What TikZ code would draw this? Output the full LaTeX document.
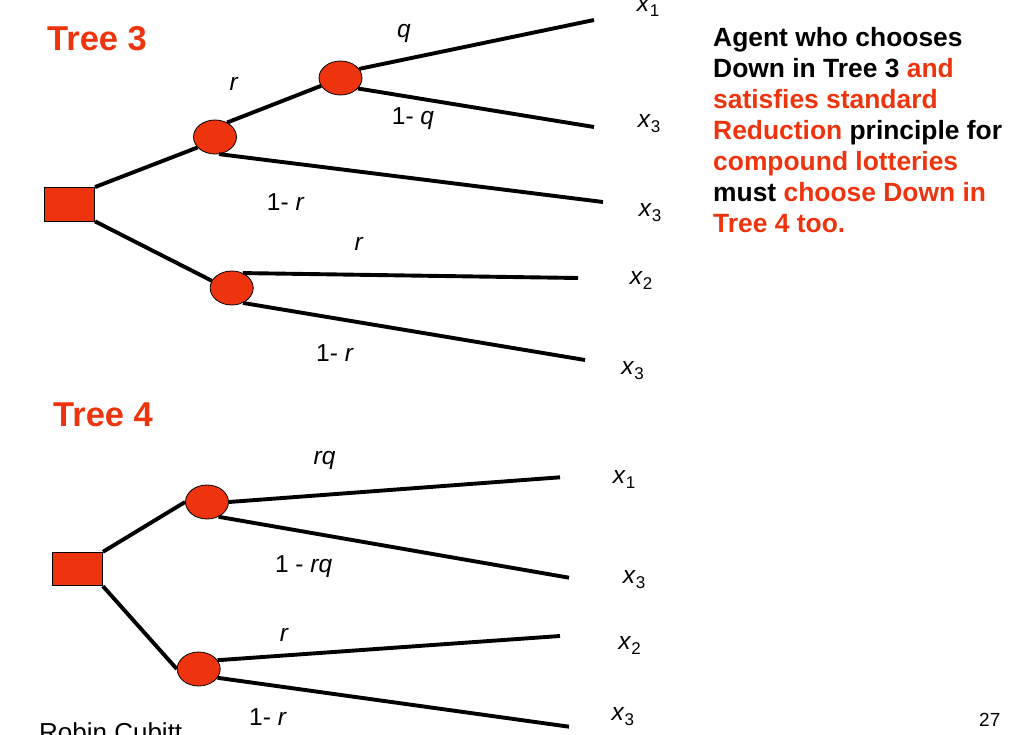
\documentclass[tikz,border=0pt]{standalone}
\usepackage{fontspec}
\setmainfont{Liberation Sans}
\usetikzlibrary{shapes.geometric}
\definecolor{myred}{RGB}{238,52,14}
\newcommand{\xsub}[2]{\textit{#1}\raisebox{-5pt}{\fontsize{17}{17}\selectfont #2}}
\tikzset{
  edge/.style={line width=3.9pt, black},
  chance/.style={ellipse, draw=black, line width=0.8pt, fill=myred, minimum width=43pt, minimum height=34pt, inner sep=0pt},
  decision/.style={rectangle, draw=black, line width=0.8pt, fill=myred, minimum width=50pt, minimum height=33.5pt, inner sep=0pt},
  lab/.style={font=\fontsize{24.5}{28}\selectfont, inner sep=0pt},
  outc/.style={font=\fontsize{24.5}{28}\selectfont, inner sep=0pt},
  ttl/.style={font=\bfseries\fontsize{34.5}{40}\selectfont, text=myred, anchor=base west, inner sep=0pt},
  para/.style={font=\bfseries\fontsize{26.4}{31}\selectfont, anchor=base west, inner sep=0pt},
  foot/.style={anchor=base west, inner sep=0pt}
}
\begin{document}
\begin{tikzpicture}[x=1pt,y=-1pt]
\useasboundingbox (0,0) rectangle (1017,735);
% titles
\node[ttl] (t3) at (47,51) {Tree 3};
\node[ttl] (t4) at (53,426) {Tree 4};
% Tree 3 nodes
\node[decision] (S3) at (69.6,204.2) {};
\node[chance] (A) at (215,137) {};
\node[chance] (B) at (340.5,78) {};
\node[chance] (C) at (231.7,288) {};
\coordinate (e1) at (594,20);
\coordinate (e2) at (594,127);
\coordinate (e3) at (603,202);
\coordinate (e4) at (578,278);
\coordinate (e5) at (585,360);
\draw[edge] (S3.north east) -- (A.211);
\draw[edge] (A.50) -- (B.202);
\draw[edge] (B.26) -- (e1);
\draw[edge] (B.-31) -- (e2);
\draw[edge] (A.-77) -- (e3);
\draw[edge] (S3.south east) -- (C.160);
\draw[edge] (C.53) -- (e4);
\draw[edge] (C.-53) -- (e5);
% Tree 3 labels
\node[lab] (lq) at (404,33.6) {\textit{q}};
\node[lab] (lr) at (234,84) {\textit{r}};
\node[lab] (l1q) at (413,119) {1- \textit{q}};
\node[lab] (l1r) at (285.7,201.7) {1- \textit{r}};
\node[lab] (lr2) at (359,244) {\textit{r}};
\node[lab] (l1r2) at (335,353) {1- \textit{r}};
\node[outc] (o1) at (648,8) {\xsub{x}{1}};
\node[outc] (o2) at (649,124) {\xsub{x}{3}};
\node[outc] (o3) at (650,213) {\xsub{x}{3}};
\node[outc] (o4) at (641,281) {\xsub{x}{2}};
\node[outc] (o5) at (632.7,370.7) {\xsub{x}{3}};
% Tree 4 nodes
\node[decision] (S4) at (77.5,569) {};
\node[chance] (D) at (207,502) {};
\node[chance] (E) at (198.7,669) {};
\coordinate (f1) at (560,477.3);
\coordinate (f2) at (569,577.7);
\coordinate (f3) at (560,636);
\coordinate (f4) at (569,726.7);
\draw[edge] (S4.north east) -- (D.180);
\draw[edge] (S4.south east) -- (E.180);
\draw[edge] (D.0) -- (f1);
\draw[edge] (D.-52) -- (f2);
\draw[edge] (E.25) -- (f3);
\draw[edge] (E.-25) -- (f4);
% Tree 4 labels
\node[lab] (mrq) at (324.6,460) {\textit{rq}};
\node[lab] (m1rq) at (303.6,566.7) {1 - \textit{rq}};
\node[lab] (mr) at (284.4,635) {\textit{r}};
\node[lab] (m1r) at (268,716.7) {1- \textit{r}};
\node[outc] (p1) at (624,479.3) {\xsub{x}{1}};
\node[outc] (p2) at (634,579.3) {\xsub{x}{3}};
\node[outc] (p3) at (629.5,646) {\xsub{x}{2}};
\node[outc] (p4) at (622.8,716.7) {\xsub{x}{3}};
% paragraph
\node[para] (q1) at (713,46.7) {Agent who chooses};
\node[para] (q2) at (713,77.8) {Down in Tree 3 \textcolor{myred}{and}};
\node[para] (q3) at (713,108.8) {\textcolor{myred}{satisfies standard}};
\node[para] (q4) at (713,139.9) {\textcolor{myred}{Reduction} principle for};
\node[para] (q5) at (713,170.9) {\textcolor{myred}{compound lotteries}};
\node[para] (q6) at (713,202) {must \textcolor{myred}{choose Down in}};
\node[para] (q7) at (713,233) {\textcolor{myred}{Tree 4 too.}};
% footer
\node[foot, font=\fontsize{26}{30}\selectfont] (auth) at (39,741.5) {Robin Cubitt};
\node[foot, font=\fontsize{19}{22}\selectfont] (pg) at (979,726.7) {27};
\end{tikzpicture}
\end{document}
